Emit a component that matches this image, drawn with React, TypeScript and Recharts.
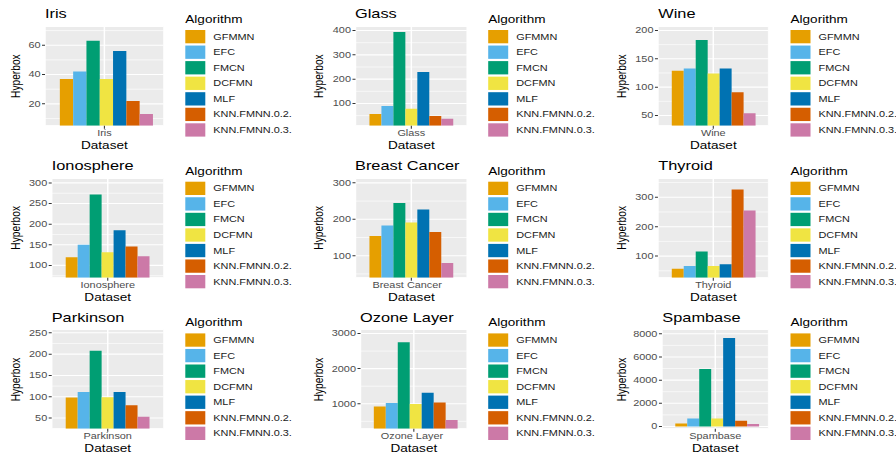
import { BarChart, Bar, XAxis, YAxis, CartesianGrid } from "recharts";

const algorithms = ["GFMMN", "EFC", "FMCN", "DCFMN", "MLF", "KNN.FMNN.0.2.", "KNN.FMNN.0.3."];
const colors = ["#E69F00", "#56B4E9", "#009E73", "#F0E442", "#0072B2", "#D55E00", "#CC79A7"];

const datasets = ["Iris", "Glass", "Wine", "Ionosphere", "Breast Cancer", "Thyroid", "Parkinson", "Ozone Layer", "Spambase"];

// hyperbox counts, same order as algorithms
const iris = [37, 42, 63, 37, 56, 22, 13];
const glass = [57, 90, 394, 78, 229, 49, 37];
const wine = [129, 133, 183, 124, 133, 91, 54];
const ionosphere = [120, 150, 272, 132, 185, 146, 122];
const breastCancer = [154, 183, 245, 191, 227, 165, 80];
const thyroid = [57, 66, 116, 66, 72, 326, 255];
const parkinson = [98, 111, 208, 99, 111, 80, 53];
const ozoneLayer = [920, 1020, 2750, 990, 1310, 1035, 535];
const spambase = [250, 680, 4970, 680, 7630, 500, 220];
const values = [iris, glass, wine, ionosphere, breastCancer, thyroid, parkinson, ozoneLayer, spambase];

// y axis ticks and visible range per panel
const majorTicks = [
  [20, 40, 60],
  [100, 200, 300, 400],
  [50, 100, 150, 200],
  [100, 150, 200, 250, 300],
  [100, 200, 300],
  [100, 200, 300],
  [50, 100, 150, 200, 250],
  [1000, 2000, 3000],
  [0, 2000, 4000, 6000, 8000],
];
const minorTicks = [
  [10, 30, 50, 70],
  [50, 150, 250, 350],
  [75, 125, 175],
  [75, 125, 175, 225, 275],
  [50, 150, 250],
  [50, 150, 250, 350],
  [75, 125, 175, 225],
  [500, 1500, 2500],
  [1000, 3000, 5000, 7000],
];
const yDomains = [
  [5, 72.8],
  [8.2, 416.5],
  [31.8, 207],
  [70, 310.7],
  [39.4, 312],
  [26.3, 363.8],
  [24.8, 257.8],
  [286, 3114],
  [-200, 8372],
];

// layout (page px). The figure is stretched horizontally, so everything
// is drawn narrower and scaled back out with scaleX.
const S = 1.33;
const W = 896;
const H = 457;
const ROW = 151.7;
const CELL = 302.75;
const CHART_H = 152;
const PLOT_TOP = 26.5;
const PLOT_H = 99.3;
const XAXIS_H = 23;
const plotLeft = [45, 355, 658.3, 51.7, 355, 658.3, 51.7, 360, 662.3];
const plotRight = [163.8, 466.7, 769];

const FONT = '"Liberation Sans", Arial, Helvetica, sans-serif';

// plain tick text, so long dataset names are not wrapped
const CategoryTick = (p: any) => (
  <text x={p.x} y={p.y} dy="0.71em" textAnchor="middle" fontSize={8.2} fill="#4D4D4D">
    {p.payload.value}
  </text>
);

function Panel({ i }: { i: number }) {
  const c = i % 3;
  const r = Math.floor(i / 3);
  const x0 = c * CELL;
  const y0 = r * ROW;
  const row: Record<string, string | number> = { name: datasets[i] };
  values[i].forEach((v, k) => {
    row[`a${k}`] = v;
  });
  const data = [row];

  return (
    <div style={{ position: "absolute", left: x0 / S, top: y0 }}>
      <BarChart
        width={(plotRight[c] - x0) / S}
        height={CHART_H}
        data={data}
        margin={{ top: PLOT_TOP, right: 0, bottom: CHART_H - PLOT_TOP - PLOT_H - XAXIS_H, left: 0 }}
        barCategoryGap="12.5%"
        barGap={0}
      >
        <CartesianGrid yAxisId="minor" vertical={false} fill="#EBEBEB" fillOpacity={1} stroke="#FFFFFF" strokeWidth={0.55} />
        <CartesianGrid stroke="#FFFFFF" strokeWidth={1.1} />
        <XAxis
          dataKey="name"
          height={XAXIS_H}
          tickSize={3}
          tickMargin={1}
          axisLine={false}
          tickLine={{ stroke: "#333333", strokeWidth: 0.8 }}
          tick={CategoryTick}
          label={{ value: "Dataset", position: "insideBottom", offset: 0, fontSize: 10.2, fill: "#000000" }}
        />
        <YAxis
          width={(plotLeft[i] - x0) / S}
          type="number"
          domain={yDomains[i]}
          ticks={majorTicks[i]}
          allowDataOverflow
          interval={0}
          tickSize={3 / S}
          tickMargin={1.5 / S}
          axisLine={false}
          tickLine={{ stroke: "#333333", strokeWidth: 1 }}
          tick={{ fontSize: 8.2, fill: "#4D4D4D" }}
        />
        <YAxis yAxisId="minor" hide type="number" domain={yDomains[i]} ticks={minorTicks[i]} allowDataOverflow />
        {algorithms.map((a, k) => (
          <Bar key={a} dataKey={`a${k}`} name={a} fill={colors[k]} isAnimationActive={false} />
        ))}
      </BarChart>
    </div>
  );
}

function Labels() {
  return (
    <svg
      width={W / S}
      height={H}
      style={{ position: "absolute", left: 0, top: 0, overflow: "visible", pointerEvents: "none" }}
    >
      {datasets.map((name, i) => {
        const c = i % 3;
        const r = Math.floor(i / 3);
        const x0 = c * CELL;
        const y0 = r * ROW;
        const keyX = (plotRight[c] + 21.5) / S;
        const textX = (plotRight[c] + 49.5) / S;
        const midY = y0 + PLOT_TOP + PLOT_H / 2;
        return (
          <g key={name}>
            <text x={plotLeft[i] / S} y={y0 + 18.5} fontSize={12.3} fill="#000">
              {name}
            </text>
            <text
              transform={`translate(${(x0 + 15.5) / S + 3.65}, ${midY}) rotate(-90)`}
              textAnchor="middle"
              fontSize={10.2}
              fill="#000"
            >
              Hyperbox
            </text>
            <text x={keyX} y={y0 + 23} fontSize={10.2} fill="#000">
              Algorithm
            </text>
            {algorithms.map((a, k) => {
              const top = y0 + 30 + k * 15.55;
              return (
                <g key={a}>
                  <rect x={keyX} y={top} width={20 / S} height={13.3} fill={colors[k]} />
                  <text x={textX} y={top + 6.65} dominantBaseline="central" fontSize={8.2} fill="#1A1A1A">
                    {a}
                  </text>
                </g>
              );
            })}
          </g>
        );
      })}
    </svg>
  );
}

export default function App() {
  return (
    <div
      style={{
        position: "absolute",
        left: 0,
        top: 0,
        width: W,
        height: H,
        overflow: "hidden",
        background: "#FFFFFF",
        fontFamily: FONT,
      }}
    >
      <div
        style={{
          position: "absolute",
          left: 0,
          top: 0,
          width: W / S,
          height: H,
          transform: `scaleX(${S})`,
          transformOrigin: "0 0",
        }}
      >
        {datasets.map((name, i) => (
          <Panel key={name} i={i} />
        ))}
        <Labels />
      </div>
    </div>
  );
}
